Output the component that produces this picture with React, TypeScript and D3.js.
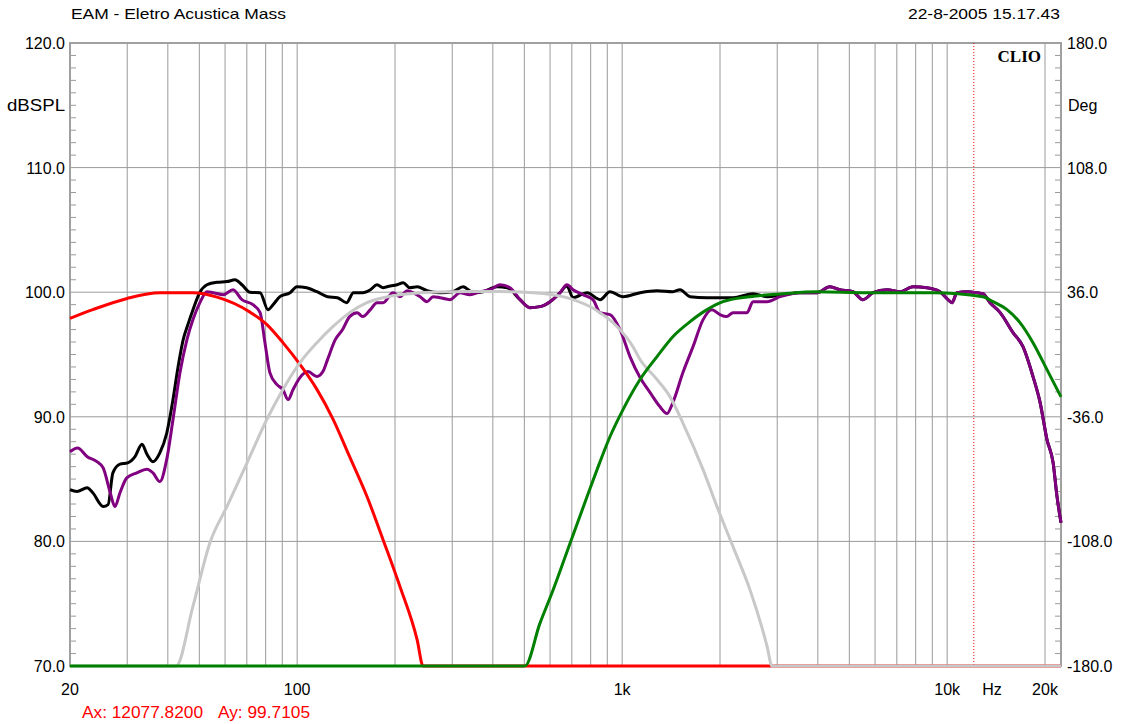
import React from 'react';
import * as d3 from 'd3';

type Pt = [number, number];

const titleText = 'EAM - Eletro Acustica Mass';
const dateText = '22-8-2005 15.17.43';
const cursorFreq = 12077.82;
const cursorDb = 99.7105;

const xTickValues = [20, 100, 1000, 10000, 20000];
const xTickLabels = ['20', '100', '1k', '10k', '20k'];
const gridFreqs = [30, 40, 50, 60, 70, 80, 90, 100, 200, 300, 400, 500, 600, 700, 800, 900,
  1000, 2000, 3000, 4000, 5000, 6000, 7000, 8000, 9000, 10000, 20000];
const dbTicks = [120, 110, 100, 90, 80, 70];
const degTicks = [180, 108, 36, -36, -108, -180];

const redLowPass: Pt[] = [
  [20, 97.9], [23.5, 98.6], [30, 99.5], [37.8, 99.95], [47.8, 99.95], [56.7, 99.6],
  [71.6, 98.4], [80.7, 97.4], [90.4, 95.95], [102, 94.2], [115, 92.2], [129, 89.8],
  [145, 86.8], [164, 83.6], [184, 80.1], [207, 76.4], [234, 72.1], [244, 70], [22400, 70],
];

const grayBandPass: Pt[] = [
  [20, 70], [42.4, 70], [47.8, 74.8], [53.9, 79.9], [60.8, 82.8], [70.1, 86.3], [80.7, 89.8],
  [90.4, 92.2], [102, 94.35], [115, 95.95], [129, 97.25], [145, 98.36], [164, 99.16],
  [184, 99.56], [207, 99.8], [295, 100.04], [420, 100.05], [532, 99.96], [676, 99.56],
  [855, 98.36], [964, 97.24], [1079, 95.63], [1135, 94.6], [1280, 92.99], [1403, 91.62],
  [1538, 89.5], [1774, 85.76], [1958, 82.79], [2193, 79.58], [2472, 76.13], [2793, 71.56],
  [2890, 70], [22400, 70],
];

const greenHighPass: Pt[] = [
  [20, 70], [502, 70], [558, 73.4], [613, 76.1], [690, 79.8], [780, 83.6], [837, 85.76],
  [917, 88.4], [1006, 90.58], [1135, 92.99], [1280, 94.83], [1432, 96.43], [1618, 97.64],
  [1824, 98.6], [2042, 99.24], [2472, 99.64], [3126, 99.88], [3973, 100.04], [5662, 99.96],
  [9038, 99.96], [12884, 99.64], [13836, 99.24], [15276, 98.6], [16750, 97.56], [18368, 95.95],
  [20280, 93.79], [22400, 91.6],
];

const purpleTail: Pt[] = [
  [3524, 99.96], [3973, 99.96], [4356, 100.44], [4677, 100.2], [5129, 100.04], [5508, 99.4],
  [5916, 99.96], [6531, 100.2], [7161, 100.04], [7852, 100.44], [8670, 100.36], [9506, 100.04],
  [10058, 99.4], [10351, 99.16], [10715, 99.96], [11508, 100.04], [12361, 99.96], [12884, 99.88],
  [13550, 99.16], [14555, 98.36], [15946, 96.76], [17110, 95.63], [18368, 93.23], [19320, 91.14],
  [20280, 88.17], [21180, 86.32], [21780, 83.59], [22240, 81.99], [22400, 81.5],
];

const blackHead: Pt[] = [
  [20, 84.15], [21.0, 84.0], [22.6, 84.3], [23.5, 83.9], [25.3, 82.8], [26.2, 82.95],
  [27.1, 85.5], [28.5, 86.2], [30.1, 86.3], [31.7, 86.8], [33.3, 87.8], [34.5, 87.0],
  [36.0, 86.4], [37.8, 87.1], [39.7, 88.7], [41.5, 91.4], [43.0, 94.0], [44.6, 96.2],
  [46.1, 97.4], [47.8, 98.6], [50.2, 100.0], [52.8, 100.6], [56.7, 100.8], [60.8, 100.85],
  [64.4, 101.0], [67.6, 100.6], [71.6, 100.0], [76.9, 99.96], [81.3, 98.6], [84.3, 99.0],
  [88.5, 99.64], [95.1, 99.96], [99.8, 100.44], [107, 100.36], [115, 100.04], [124, 99.64],
  [133, 99.56], [142, 99.16], [149, 99.96], [159, 99.96], [168, 100.2], [176, 100.6],
  [184, 100.36], [189, 100.44], [203, 100.6], [212, 100.76], [222, 100.36], [234, 100.44],
  [251, 100.12], [275, 99.96], [301, 100.04], [324, 100.44], [348, 99.96], [373, 100.04],
  [412, 100.44], [443, 100.36], [485, 99.4], [520, 98.76], [558, 98.84], [600, 99.24],
  [644, 99.96], [676, 100.5], [706, 99.56], [780, 99.96], [855, 99.4], [917, 100.04],
  [1006, 99.64], [1135, 99.96], [1280, 100.12], [1432, 100.04], [1507, 100.2], [1618, 99.64],
  [1824, 99.56], [2000, 99.56], [2193, 99.56], [2527, 99.88], [2793, 99.64], [3126, 99.8],
];

const purpleHead: Pt[] = [
  [20, 87.2], [21.1, 87.5], [22.6, 86.8], [24.2, 86.4], [25.3, 85.9], [26.6, 83.9],
  [27.5, 82.8], [28.5, 83.9], [29.9, 85.1], [32.1, 85.5], [34.5, 85.8], [36.0, 85.5],
  [37.8, 84.8], [39.7, 86.6], [41.5, 89.8], [43.6, 93.55], [45.8, 96.2], [47.8, 97.8],
  [50.2, 99.16], [52.8, 100.04], [55.1, 99.96], [59.2, 99.8], [63.5, 100.2], [67.6, 99.4],
  [73.1, 99.0], [76.9, 98.36], [79.6, 95.95], [82.4, 93.55], [86.7, 92.58], [90.4, 92.18],
  [93.8, 91.38], [97.1, 92.18], [102, 93.15], [108, 93.63], [115, 93.23], [120, 93.63],
  [124, 94.59], [131, 96.19], [138, 97.0], [145, 98.04], [153, 98.36], [159, 98.04],
  [168, 98.6], [176, 99.16], [184, 99.16], [197, 99.96], [207, 99.64], [218, 100.12],
  [227, 99.96], [239, 99.64], [251, 99.24], [262, 99.64], [275, 99.56], [295, 99.4],
  [317, 99.96], [340, 99.8], [365, 100.04], [392, 100.2], [421, 100.6], [452, 100.36],
  [485, 99.4], [520, 98.76], [558, 98.84], [600, 99.24], [644, 99.96], [676, 100.6],
  [706, 100.2], [757, 99.8], [813, 99.4], [855, 98.36], [917, 98.2], [985, 97.0],
  [1057, 94.83], [1135, 93.15], [1219, 91.94], [1306, 90.82], [1374, 90.26], [1432, 91.14],
  [1538, 93.55], [1652, 95.63], [1774, 97.8], [1888, 98.6], [2000, 98.2], [2096, 98.04],
  [2193, 98.36], [2421, 98.36], [2527, 99.24], [2793, 99.24], [3062, 99.64],
];

const blackResponse: Pt[] = [...blackHead, ...purpleTail];
const purpleResponse: Pt[] = [...purpleHead, ...purpleTail];

const W = 1125;
const H = 724;
const L = 70;
const R = 1061;
const T = 43;
const B = 666;

export default function App() {
  const x = d3.scaleLog().domain([20, 22400]).range([L, R]);
  const y = d3.scaleLinear().domain([70, 120]).range([B, T]);
  const yDeg = d3.scaleLinear().domain([-180, 180]).range([B, T]);
  const line = d3.line<Pt>().x(d => x(d[0])).y(d => y(d[1])).curve(d3.curveMonotoneX);

  const minor = d3.range(71, 120).filter(v => v % 10 !== 0);
  const font = 'Liberation Sans, Arial, sans-serif';
  const gridColor = '#9a9a9a';

  const curves: { data: Pt[]; color: string }[] = [
    { data: blackResponse, color: '#000000' },
    { data: purpleResponse, color: '#800080' },
    { data: redLowPass, color: '#ff0000' },
    { data: grayBandPass, color: '#c8c8c8' },
    { data: greenHighPass, color: '#008000' },
  ];

  return (
    <svg width={W} height={H} style={{ position: 'absolute', left: 0, top: 0, background: '#fff' }}>
      <rect x={0} y={0} width={W} height={H} fill="#fff" />
      <text x={71} y={18.5} fontFamily={font} fontSize={15} textLength={215} lengthAdjust="spacingAndGlyphs">{titleText}</text>
      <text x={908} y={18.5} fontFamily={font} fontSize={15} textLength={152} lengthAdjust="spacingAndGlyphs">{dateText}</text>

      {gridFreqs.map(f => (
        <line key={'v' + f} x1={x(f)} x2={x(f)} y1={T} y2={B} stroke={gridColor} strokeWidth={1} />
      ))}
      {dbTicks.slice(1, -1).map(v => (
        <line key={'h' + v} x1={L} x2={R} y1={y(v)} y2={y(v)} stroke={gridColor} strokeWidth={1} />
      ))}
      {minor.map(v => (
        <g key={'m' + v}>
          <line x1={L} x2={L + 6} y1={y(v)} y2={y(v)} stroke={gridColor} strokeWidth={1} />
          <line x1={R - 6} x2={R} y1={y(v)} y2={y(v)} stroke={gridColor} strokeWidth={1} />
        </g>
      ))}
      <rect x={L} y={T} width={R - L} height={B - T} fill="none" stroke="#a0a0a0" strokeWidth={2} />

      <line x1={x(cursorFreq)} x2={x(cursorFreq)} y1={T} y2={B} stroke="#ff0000" strokeWidth={1} strokeDasharray="1,2" />

      <text x={1041} y={62} fontFamily="Liberation Serif, Times New Roman, serif" fontWeight="bold" fontSize={17} textAnchor="end">CLIO</text>

      {curves.map((c, i) => (
        <path key={'c' + i} d={line(c.data) || ''} fill="none" stroke={c.color} strokeWidth={3} strokeLinejoin="round" />
      ))}

      {dbTicks.map(v => (
        <text key={'l' + v} x={65} y={y(v) + 6} fontFamily={font} fontSize={16} textAnchor="end">{v.toFixed(1)}</text>
      ))}
      <text x={7} y={y(115) + 6} fontFamily={font} fontSize={16} textLength={58} lengthAdjust="spacingAndGlyphs">dBSPL</text>
      {degTicks.map(v => (
        <text key={'r' + v} x={1067} y={yDeg(v) + 6} fontFamily={font} fontSize={16}>{v.toFixed(1)}</text>
      ))}
      <text x={1068} y={y(115) + 6} fontFamily={font} fontSize={16}>Deg</text>

      {xTickValues.map((f, i) => (
        <text key={'x' + f} x={x(f)} y={695} fontFamily={font} fontSize={16} textAnchor="middle">{xTickLabels[i]}</text>
      ))}
      <text x={992} y={695} fontFamily={font} fontSize={16} textAnchor="middle">Hz</text>

      <text x={82} y={718} fontFamily={font} fontSize={16} fill="#ff0000" textLength={121} lengthAdjust="spacingAndGlyphs">{'Ax: ' + cursorFreq.toFixed(4)}</text>
      <text x={218} y={718} fontFamily={font} fontSize={16} fill="#ff0000" textLength={92} lengthAdjust="spacingAndGlyphs">{'Ay: ' + cursorDb.toFixed(4)}</text>
    </svg>
  );
}
